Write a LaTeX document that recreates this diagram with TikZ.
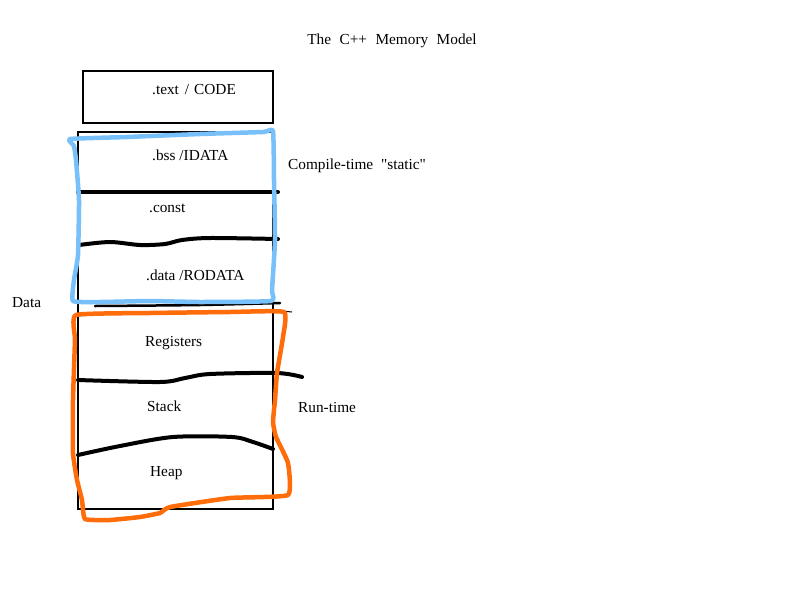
\documentclass[tikz,border=0pt]{standalone}
\usepackage{fontspec}
\setmainfont{Liberation Serif}
\newfontfamily\rawserif{Liberation Serif}
\definecolor{hblue}{RGB}{120,192,250}
\definecolor{horange}{RGB}{255,108,10}
\begin{document}
\begin{tikzpicture}[x=1pt,y=-1pt,
  lbl/.style={inner sep=0pt, anchor=west, font=\fontsize{15.3}{18}\selectfont},
  boxline/.style={draw=black, line width=1.8pt, inner sep=0pt, anchor=north west},
  sepline/.style={draw=black, line width=4pt, line cap=round, line join=round},
  blueline/.style={draw=hblue, line width=4.5pt, line cap=round, line join=round},
  orangeline/.style={draw=horange, line width=4.5pt, line cap=round, line join=round}]
\useasboundingbox[fill=white] (0,0) rectangle (800,600);

% boxes
\node[boxline, minimum width=190pt, minimum height=52pt] (codebox) at (82,70) {};
\node[boxline, minimum width=195pt, minimum height=377pt] (databox) at (77,131) {};

% labels
\node[lbl, anchor=center] (title) at (392,41) {The\hspace{8.5pt}C++\hspace{8.5pt}Memory\hspace{8.5pt}Model};
\node[lbl] (code) at (152,90) {.text\hspace{6pt}/\hspace{5pt}CODE};
\node[lbl] (bss) at (152,155) {.bss /IDATA};
\node[lbl] (const) at (149,208) {.const};
\node[lbl] (rodata) at (146,275) {.data /RODATA};
\node[lbl] (regs) at (145,343) {Registers};
\node[lbl] (stack) at (147,406) {Stack};
\node[lbl] (heap) at (150,473) {Heap};
\node[lbl] (compile) at (288,166) {Compile-time\hspace{8pt}{\rawserif "static"}};
\node[lbl] (runtime) at (298,408) {Run-time};
\node[lbl] (data) at (12,303) {Data};

% separators
\draw[sepline] (78,192) -- (278,192);
\draw[sepline] plot[smooth, tension=0.5] coordinates {(79,245) (110,242) (140,245) (165,244) (182,240) (210,238) (278,239)};
\draw[sepline, line width=2.5pt] plot[smooth, tension=0.5] coordinates {(95,306) (200,305) (280,303)};
\draw[black, line width=1pt] (272,310) -- (292,312);
\draw[sepline] plot[smooth, tension=0.5] coordinates {(78,380) (160,382) (185,378) (210,374) (277,373) (302,377)};
\draw[sepline] plot[smooth, tension=0.5] coordinates {(78,455) (120,446) (173,437) (232,437) (253,442) (273,449)};

% hand-drawn outlines
\draw[blueline] plot[smooth cycle, tension=0.25] coordinates {(70,139) (127,137) (200,134) (263,132) (273,131) (274,180) (275,240) (272,290) (271,301) (200,302) (150,301) (100,302) (73,301) (74,280) (78,255) (79,200) (76,160) (74,146)};
\draw[orangeline] plot[smooth cycle, tension=0.25] coordinates {(76,315) (150,313) (230,312) (284,312) (283,337) (277,373) (275,400) (273,422) (276,437) (288,463) (288,495) (230,498) (170,507) (160,513) (140,517) (110,520) (85,519) (82,500) (77,480) (73,453) (73,400) (75,340)};
\end{tikzpicture}
\end{document}
